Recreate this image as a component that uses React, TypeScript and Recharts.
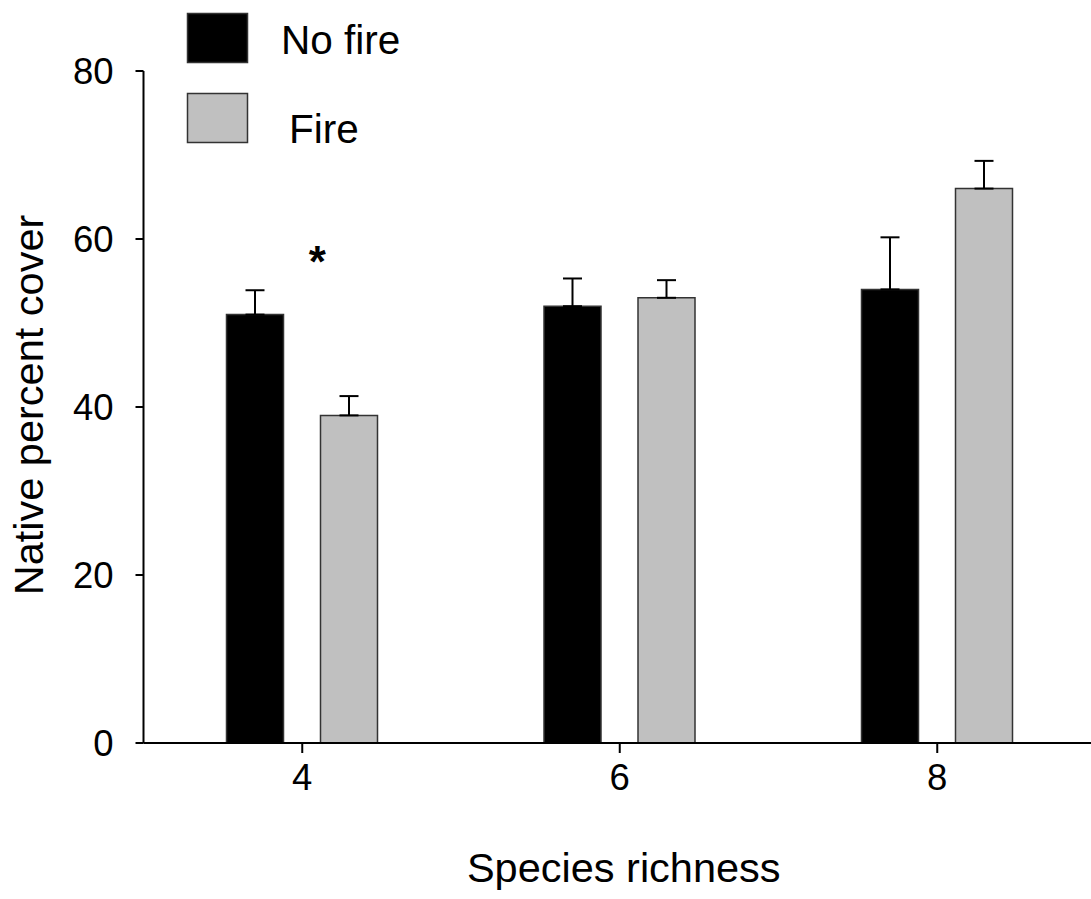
import { BarChart, Bar, XAxis, YAxis, ErrorBar, Legend, ReferenceDot } from 'recharts';

const richness = ['4', '6', '8'];
const noFire = [51, 52, 54];
const noFireErr = [2.9, 3.3, 6.2];
const fire = [39, 53, 66];
const fireErr = [2.3, 2.1, 3.3];
const yTicks = [0, 20, 40, 60, 80];
const seriesNames = ['No fire', 'Fire'];
const seriesFills = ['#000000', '#c0c0c0'];
// significance marks: category and height (in y units) of the star
const sigMarks = [{ cat: '4', y: 55.5, text: '*' }];

const data = richness.map((r, i) => ({
  richness: r,
  noFire: noFire[i],
  noFireErr: [0, noFireErr[i]],
  fire: fire[i],
  fireErr: [0, fireErr[i]],
}));

const font = '"Liberation Sans", Arial, sans-serif';
const axisStroke = { stroke: '#000', strokeWidth: 2 };

const YLabel = (props: any) => {
  const { viewBox } = props;
  const cx = viewBox.x + 28;
  const cy = viewBox.y + viewBox.height / 2 - 2;
  return (
    <text x={cx} y={cy} transform={`rotate(-90, ${cx}, ${cy})`} textAnchor="middle"
      dominantBaseline="central" fontSize={41.5} fontFamily={font} fill="#000">
      Native percent cover
    </text>
  );
};

const XLabel = (props: any) => {
  const { viewBox } = props;
  return (
    <text x={viewBox.x + viewBox.width / 2 + 4} y={viewBox.y + 139} textAnchor="middle"
      fontSize={41.5} fontFamily={font} fill="#000">
      Species richness
    </text>
  );
};

const LegendBox = () => (
  <svg width={420} height={160}>
    {seriesNames.map((name, i) => (
      <g key={name}>
        <rect x={187.5} y={13.5 + i * 80} width={60} height={49} fill={seriesFills[i]}
          stroke="#333" strokeWidth={1.5} />
        <text x={281 + i * 8} y={54 + i * 89} fontSize={40.5} fontFamily={font} fill="#000">
          {name}
        </text>
      </g>
    ))}
  </svg>
);

export default function App() {
  return (
    <div style={{ position: 'absolute', left: 0, top: 0, width: 1091, height: 899, overflow: 'hidden', background: '#fff' }}>
      <BarChart width={1100} height={899} data={data} margin={{ top: 71, right: 4, bottom: 0, left: 0 }}
        barGap={37} barSize={57}>
        <XAxis dataKey="richness" height={156} tickSize={10} tickMargin={11}
          axisLine={axisStroke} tickLine={axisStroke}
          tick={{ fill: '#000', fontSize: 36.5, fontFamily: font }}
          label={{ content: XLabel }} />
        <YAxis width={143.5} domain={[0, 80]} ticks={yTicks} tickSize={8} tickMargin={22}
          axisLine={axisStroke} tickLine={axisStroke}
          tick={{ fill: '#000', fontSize: 36.5, fontFamily: font }}
          label={{ content: YLabel }} />
        <Legend verticalAlign="middle" align="center" layout="horizontal"
          wrapperStyle={{ top: 0, left: 0, width: 420, height: 160 }} content={LegendBox} />
        <Bar dataKey="noFire" name={seriesNames[0]} fill={seriesFills[0]} stroke="#333" strokeWidth={1.5}
          isAnimationActive={false}>
          <ErrorBar dataKey="noFireErr" width={9.5} stroke="#000" strokeWidth={2} isAnimationActive={false} />
        </Bar>
        <Bar dataKey="fire" name={seriesNames[1]} fill={seriesFills[1]} stroke="#333" strokeWidth={1.5}
          isAnimationActive={false}>
          <ErrorBar dataKey="fireErr" width={9.5} stroke="#000" strokeWidth={2} isAnimationActive={false} />
        </Bar>
        {sigMarks.map((m) => (
          <ReferenceDot key={m.cat} x={m.cat} y={m.y} r={0} fill="none" stroke="none"
            label={{
              content: (p: any) => (
                <text x={p.viewBox.x + 15} y={p.viewBox.y} textAnchor="middle" fontSize={44}
                  fontWeight="bold" fontFamily={font} fill="#000">{m.text}</text>
              ),
            }} />
        ))}
      </BarChart>
    </div>
  );
}
